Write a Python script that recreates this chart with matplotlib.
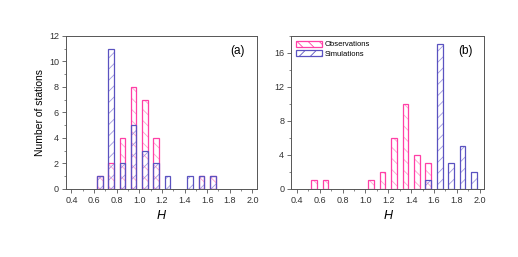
import numpy as np
import matplotlib
matplotlib.use("Agg")
import matplotlib.pyplot as plt
from matplotlib.ticker import MultipleLocator, FormatStrFormatter
from matplotlib.patches import Patch

# bin centres and counts
h_bins = [0.55, 0.65, 0.75, 0.85, 0.95, 1.05, 1.15, 1.25, 1.35, 1.45, 1.55, 1.65, 1.75, 1.85, 1.95]

obs_a = [0, 1, 2, 4, 8, 7, 4, 0, 0, 0, 1, 1, 0, 0, 0]
sim_a = [0, 1, 11, 2, 5, 3, 2, 1, 0, 1, 1, 1, 0, 0, 0]

obs_b = [1, 1, 0, 0, 0, 1, 2, 6, 10, 4, 3, 0, 0, 0, 0]
sim_b = [0, 0, 0, 0, 0, 0, 0, 0, 0, 0, 1, 17, 3, 5, 2]

obs_color = "#ff3fa6"
obs_hatch = "#ff9fd0"
sim_color = "#5a52c0"
sim_hatch = "#a09ae0"

plt.rcParams["hatch.linewidth"] = 0.6
plt.rcParams["font.family"] = ["Liberation Sans", "DejaVu Sans"]

fig = plt.figure(figsize=(5.18, 2.57), dpi=100)
ax1 = fig.add_axes([0.127, 0.265, 0.369, 0.595])
ax2 = fig.add_axes([0.562, 0.265, 0.373, 0.595])


def draw_panel(ax, obs, sim, ymax, ystep, label):
    x = np.array(h_bins)
    obs = np.array(obs)
    sim = np.array(sim)
    mo = obs > 0
    ms = sim > 0
    # hatch fills
    ax.bar(x[mo], obs[mo], width=0.05, facecolor="none", edgecolor=obs_hatch,
           hatch="\\\\\\", linewidth=0, zorder=2)
    ax.bar(x[ms], sim[ms], width=0.05, facecolor="none", edgecolor=sim_hatch,
           hatch="///", linewidth=0, zorder=2)
    # outlines
    ax.bar(x[mo], obs[mo], width=0.05, facecolor="none", edgecolor=obs_color,
           linewidth=0.9, zorder=3)
    ax.bar(x[ms], sim[ms], width=0.05, facecolor="none", edgecolor=sim_color,
           linewidth=0.9, zorder=4)
    ax.set_xlim(0.35, 2.04)
    ax.set_ylim(0, ymax)
    ax.xaxis.set_major_locator(MultipleLocator(0.2))
    ax.xaxis.set_minor_locator(MultipleLocator(0.1))
    ax.yaxis.set_major_locator(MultipleLocator(ystep))
    ax.yaxis.set_minor_locator(MultipleLocator(ystep / 2))
    ax.xaxis.set_major_formatter(FormatStrFormatter("%.1f"))
    ax.tick_params(which="major", length=3, width=0.6, labelsize=6.5, pad=2,
                   colors="#555555", labelcolor="#333333")
    ax.tick_params(which="minor", length=1.5, width=0.5, colors="#555555")
    for s in ax.spines.values():
        s.set_linewidth(0.7)
        s.set_color("#555555")
    ax.set_xlabel("H", fontstyle="italic", fontsize=9, labelpad=4)
    ax.text(0.9, 0.9, label, transform=ax.transAxes, ha="center", va="center", fontsize=8.5)


draw_panel(ax1, obs_a, sim_a, 12, 2, "(a)")
draw_panel(ax2, obs_b, sim_b, 18, 4, "(b)")
ax1.set_ylabel("Number of stations", fontsize=7.5, labelpad=3)

handles = [Patch(facecolor="none", edgecolor=obs_color, hatch="\\\\\\", linewidth=0.9, label="Observations"),
           Patch(facecolor="none", edgecolor=sim_color, hatch="///", linewidth=0.9, label="Simulations")]
ax2.legend(handles=handles, loc="upper left", fontsize=5.5, frameon=False, handlelength=3.4,
           handleheight=0.9, borderaxespad=0.2, labelspacing=0.2, handletextpad=0.4)

fig.savefig("out.png", dpi=100)
